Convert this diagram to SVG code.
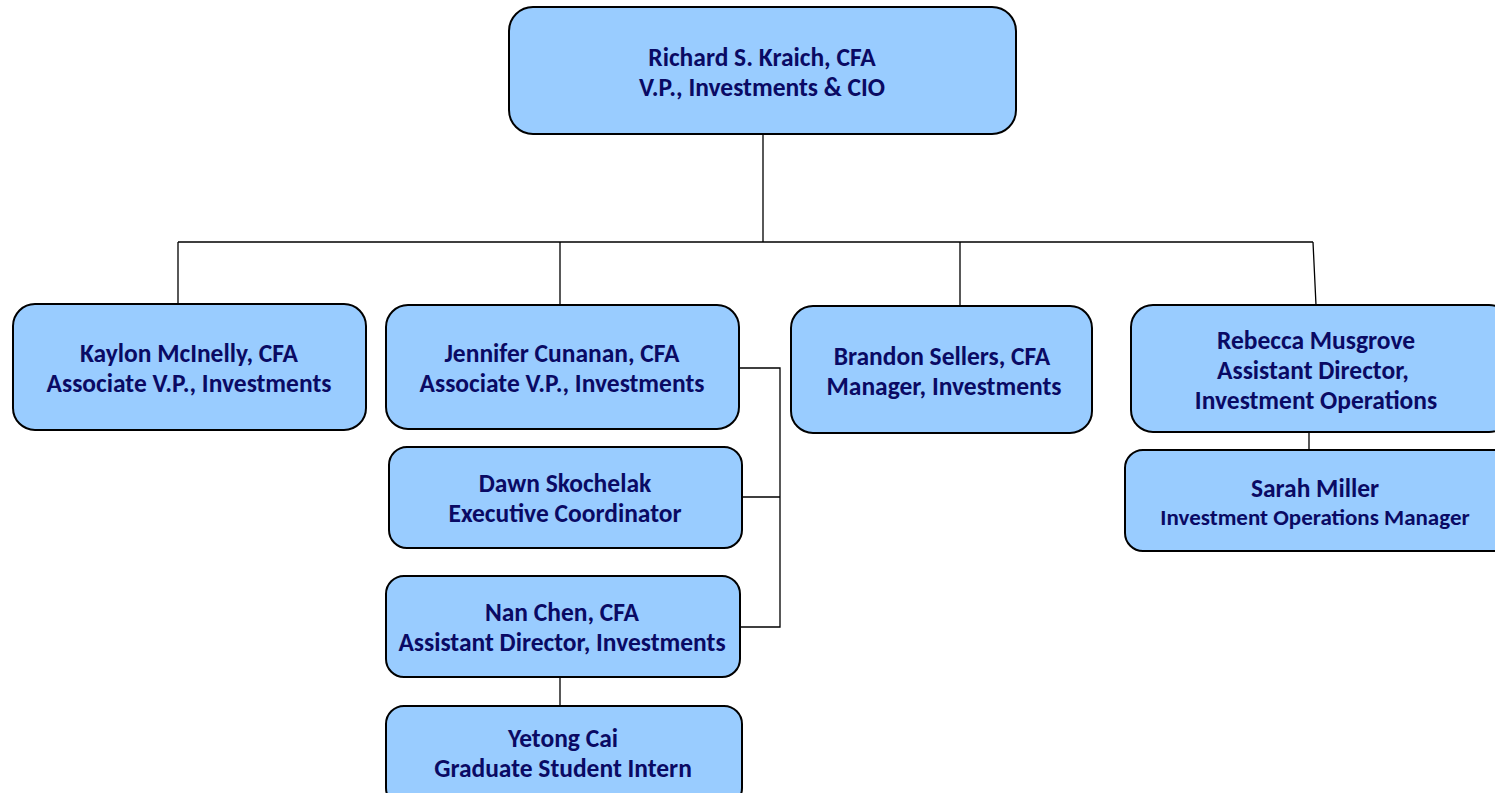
<svg xmlns="http://www.w3.org/2000/svg" width="1495" height="793" viewBox="0 0 1495 793">
<style>
.box{fill:#99ccff;stroke:#000;stroke-width:2}
.t{font-family:Carlito,Calibri,"Liberation Sans",sans-serif;font-weight:bold;font-size:25.5px;fill:#0a0a64;text-anchor:middle;dominant-baseline:central}
.s{font-size:23px}
.c{stroke:#000;stroke-width:1.3;fill:none}
</style>
<rect width="1495" height="793" fill="#fff"/>
<g id="connectors">
<path class="c" d="M763 134V242M178 242H1313M178 242V304M560 242V305M960 242V306M1313 242L1316 305"/>
<path class="c" d="M739 368H780V627H740M742 497H780"/>
<path class="c" d="M560 673V706M1309 427V450"/>
</g>
<g id="richard"><rect class="box" x="509" y="7" width="507" height="127" rx="24"/>
<text class="t" x="762" y="57">Richard S. Kraich, CFA</text><text class="t" x="762" y="87">V.P., Investments &amp; CIO</text></g>
<g id="kaylon"><rect class="box" x="13" y="304" width="353" height="126" rx="22"/>
<text class="t" x="189" y="353">Kaylon McInelly, CFA</text><text class="t" x="189" y="383">Associate V.P., Investments</text></g>
<g id="jennifer"><rect class="box" x="386" y="305" width="353" height="124" rx="22"/>
<text class="t" x="562" y="353">Jennifer Cunanan, CFA</text><text class="t" x="562" y="383">Associate V.P., Investments</text></g>
<g id="dawn"><rect class="box" x="389" y="447" width="353" height="101" rx="18"/>
<text class="t" x="565" y="483">Dawn Skochelak</text><text class="t" x="565" y="513">Executive Coordinator</text></g>
<g id="nan"><rect class="box" x="386" y="576" width="354" height="101" rx="18"/>
<text class="t" x="562" y="612">Nan Chen, CFA</text><text class="t" x="562" y="642">Assistant Director, Investments</text></g>
<g id="yetong"><rect class="box" x="386" y="706" width="356" height="100" rx="18"/>
<text class="t" x="563" y="738">Yetong Cai</text><text class="t" x="563" y="768">Graduate Student Intern</text></g>
<g id="brandon"><rect class="box" x="791" y="306" width="301" height="127" rx="22"/>
<text class="t" x="942" y="356">Brandon Sellers, CFA</text><text class="t" x="944" y="386">Manager, Investments</text></g>
<g id="rebecca"><rect class="box" x="1131" y="305" width="380" height="127" rx="22"/>
<text class="t" x="1316" y="340">Rebecca Musgrove</text><text class="t" x="1313" y="370">Assistant Director,</text><text class="t" x="1316" y="400">Investment Operations</text></g>
<g id="sarah"><rect class="box" x="1125" y="450" width="386" height="101" rx="18"/>
<text class="t" x="1315" y="488">Sarah Miller</text><text class="t s" x="1315" y="517">Investment Operations Manager</text></g>
</svg>
